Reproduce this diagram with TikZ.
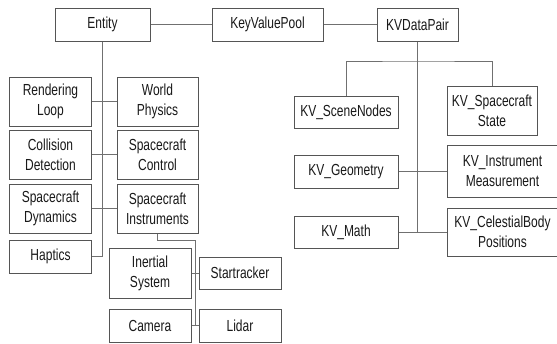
\documentclass[tikz,border=0pt]{standalone}
\usepackage{fontspec}
\setmainfont[FakeStretch=0.75]{Liberation Sans}
\begin{document}
\begin{tikzpicture}[x=1pt,y=-1pt,
  box/.style={draw=boxc, line width=1pt, fill=white, text=black!90, align=center, inner sep=0pt,
    font=\fontsize{16}{20}\selectfont},
  conn/.style={draw=linec, line width=1pt}]
\definecolor{boxc}{HTML}{555555}
\definecolor{linec}{HTML}{707070}
\useasboundingbox (0,0) rectangle (557,343);
\clip (0,0) rectangle (557,343);
% top row
\node[box, minimum width=95pt, minimum height=33pt] (entity) at (102.5,24.5) {Entity};
\node[box, minimum width=111pt, minimum height=33pt] (kvp) at (267.5,24.5) {KeyValuePool};
\node[box, minimum width=81pt, minimum height=33pt] (kvdp) at (417.5,24.5) {KVDataPair};
% left column
\node[box, minimum width=82pt, minimum height=49pt] (render) at (50.5,101.5) {Rendering\\Loop};
\node[box, minimum width=81pt, minimum height=49pt] (world) at (157.5,101.5) {World\\Physics};
\node[box, minimum width=82pt, minimum height=49pt] (coll) at (50.5,154.5) {Collision\\Detection};
\node[box, minimum width=81pt, minimum height=49pt] (ctrl) at (157.5,154.5) {Spacecraft\\Control};
\node[box, minimum width=82pt, minimum height=49pt] (dyn) at (50.5,208.5) {Spacecraft\\Dynamics};
\node[box, minimum width=81pt, minimum height=49pt] (instr) at (157.5,208.5) {Spacecraft\\Instruments};
\node[box, minimum width=82pt, minimum height=33pt] (hapt) at (50.5,256.5) {Haptics};
\node[box, minimum width=82pt, minimum height=50pt] (iner) at (150,273) {Inertial\\System};
\node[box, minimum width=82pt, minimum height=32pt] (star) at (240,273) {Startracker};
\node[box, minimum width=82pt, minimum height=33pt] (cam) at (150,325.5) {Camera};
\node[box, minimum width=82pt, minimum height=33pt] (lidar) at (240,325.5) {Lidar};
% right side
\node[box, minimum width=104pt, minimum height=32pt] (scene) at (346,112) {KV\_SceneNodes};
\node[box, minimum width=90pt, minimum height=49pt] (scstate) at (492,110.5) {KV\_Spacecraft\\State};
\node[box, minimum width=104pt, minimum height=33pt] (geom) at (346,171.5) {KV\_Geometry};
\node[box, minimum width=111pt, minimum height=52pt] (meas) at (502.5,171.5) {KV\_Instrument\\Measurement};
\node[box, minimum width=104pt, minimum height=32pt] (math) at (346,232) {KV\_Math};
\node[box, minimum width=111pt, minimum height=48pt] (celest) at (502.5,232) {KV\_CelestialBody\\Positions};
% junction coordinates
\coordinate (ibus) at (195,240);
\coordinate (kvbus) at (417.5,232);
\coordinate (kvsplit) at (417.5,61);
% connectors
\draw[conn] (entity) -- (kvp);
\draw[conn] (kvp) -- (kvdp);
\draw[conn] (entity.south) |- (hapt.east);
\draw[conn] (render) -- (world);
\draw[conn] (coll) -- (ctrl);
\draw[conn] (dyn) -- (instr);
\draw[conn] (instr.south) |- (ibus) |- (cam.east);
\draw[conn] (iner) -- (star);
\draw[conn] (cam) -- (lidar);
\draw[conn] (kvdp.south) -- (kvbus);
\draw[conn] (scene.north) |- (kvsplit) -| (scstate.north);
\draw[conn] (geom) -- (meas);
\draw[conn] (math) -- (celest);
\end{tikzpicture}
\end{document}
